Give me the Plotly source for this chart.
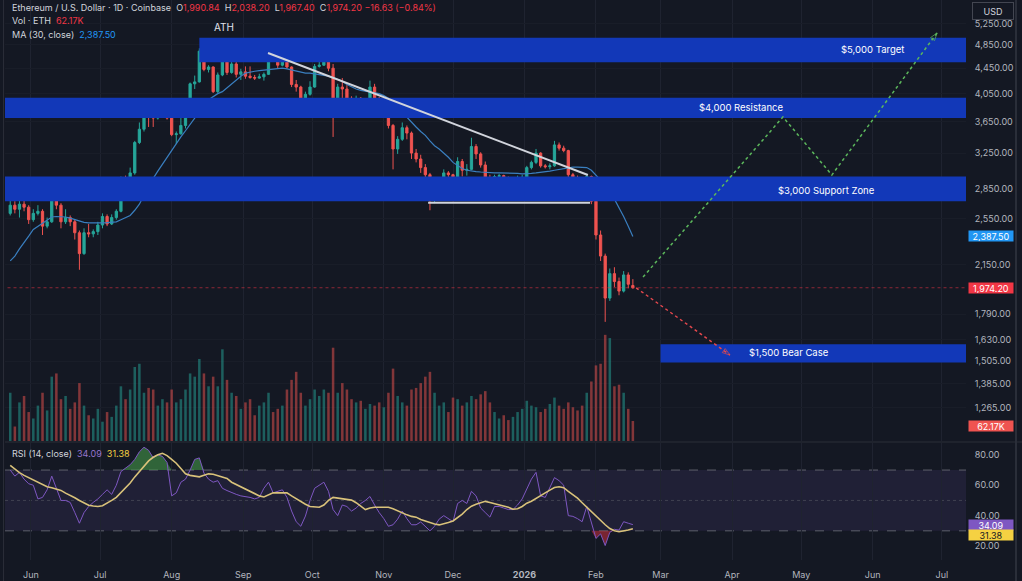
import math
import pandas as pd
import plotly.graph_objects as go

# ---------------- data (2-day candles) ----------------
dates = pd.date_range("2025-05-23", periods=136, freq="2D")

opens = [2600,2680,2640,2690,2660,2540,2600,2620,2480,2520,
         2760,2680,2520,2560,2520,2420,2240,2420,2410,2430,
         2490,2570,2500,2560,2620,2950,2940,3020,3380,3550,
         3760,3740,3700,3780,3800,3700,3480,3490,3600,3720,
         4200,4230,4740,4430,4470,4080,4340,4780,4380,4520,
         4350,4390,4320,4300,4290,4310,4350,4620,4600,4500,
         4580,4470,4190,4150,3950,4040,4150,4480,4500,4680,
         4450,3850,4150,4120,3980,3880,3980,3860,3940,4150,
         3980,3850,3880,3600,3300,3420,3570,3500,3250,3180,
         3080,3000,2760,2820,2950,3020,3000,2800,3150,3050,
         3060,3330,3240,3110,2960,2920,2980,2990,2960,2930,
         2940,2960,2970,3080,3140,3250,3100,3090,3100,3350,
         3310,3280,3000,2960,2920,2880,2980,2720,2400,2220,
         1900,2080,2020,1950,2070,1990.84]
highs = [2740,2720,2730,2780,2680,2640,2680,2640,2560,2870,
         2810,2700,2640,2580,2540,2440,2460,2500,2450,2520,
         2600,2590,2590,2640,2980,2990,3080,3400,3640,3800,
         3820,3780,3820,3940,3880,3720,3520,3720,3760,4220,
         4330,4790,4760,4500,4480,4380,4960,4800,4640,4560,
         4440,4480,4480,4340,4360,4380,4680,4760,4620,4640,
         4600,4480,4260,4170,4080,4240,4520,4560,4760,4700,
         4520,4200,4290,4180,4010,4020,4000,3960,4250,4200,
         4000,3920,3900,3620,3460,3640,3600,3520,3300,3230,
         3120,3020,2860,2970,3060,3040,3010,3200,3180,3120,
         3440,3360,3260,3150,3000,3000,3010,3000,2980,2960,
         2990,3000,3100,3160,3300,3260,3120,3130,3400,3380,
         3340,3290,3020,2990,2950,3010,2990,2740,2440,2240,
         2120,2130,2050,2100,2090,2038.20]
lows = [2580,2600,2560,2620,2500,2520,2580,2400,2460,2510,
        2640,2460,2500,2480,2360,2110,2230,2380,2380,2400,
        2460,2480,2490,2540,2610,2900,2920,3000,3360,3520,
        3580,3580,3680,3760,3680,3460,3360,3480,3560,3700,
        4120,4220,4400,4380,4060,4060,4320,4340,4360,4300,
        4260,4280,4280,4260,4280,4250,4340,4580,4440,4480,
        4440,4150,4080,3830,3940,4020,4140,4460,4490,4400,
        3450,3800,3920,3920,3780,3860,3720,3840,3920,3960,
        3760,3830,3560,3060,3240,3400,3420,3180,3140,3020,
        2900,2630,2700,2800,2930,2960,2720,2780,2980,2990,
        3050,3180,3080,2900,2780,2900,2960,2900,2910,2920,
        2920,2950,2960,3060,3120,3080,3070,3060,3090,3280,
        3260,2960,2920,2880,2800,2860,2690,2360,2180,1740,
        1880,1980,1920,1940,1970,1967.40]
closes = [2680,2640,2690,2660,2540,2600,2620,2480,2520,2760,
          2680,2520,2560,2520,2420,2240,2420,2410,2430,2490,
          2570,2500,2560,2620,2950,2940,3020,3380,3550,3760,
          3740,3700,3780,3800,3700,3480,3490,3600,3720,4200,
          4230,4740,4430,4470,4080,4340,4780,4380,4520,4350,
          4390,4320,4300,4290,4310,4350,4620,4600,4500,4580,
          4470,4190,4150,3950,4040,4150,4480,4500,4680,4450,
          3850,4150,4120,3980,3880,3980,3860,3940,4150,3980,
          3850,3880,3600,3300,3420,3570,3500,3250,3180,3080,
          3000,2760,2820,2950,3020,3000,2800,3150,3050,3060,
          3330,3240,3110,2960,2920,2980,2990,2960,2930,2940,
          2960,2970,3080,3140,3250,3100,3090,3100,3350,3310,
          3280,3000,2960,2920,2880,2980,2720,2400,2220,1900,
          2080,2020,1950,2070,2000,1974.20]
volume_k = [150,45,120,140,90,70,110,150,95,200,
            210,130,140,100,120,180,110,80,70,100,
            60,90,75,110,170,130,160,230,240,150,
            165,160,110,130,120,160,120,130,160,210,
            200,255,210,170,200,170,285,190,150,140,
            100,120,130,80,110,120,150,90,100,110,
            160,190,215,150,110,130,160,140,160,150,
            290,150,180,160,130,120,125,100,115,110,
            120,105,150,225,140,120,110,160,165,180,
            200,215,150,110,120,90,135,130,110,120,
            140,130,145,155,120,90,70,80,65,75,
            90,100,125,110,105,90,100,115,135,110,
            100,120,105,95,110,150,185,235,240,330,
            320,170,175,150,100,62.17]
ma30 = [2180,2220,2280,2330,2390,2450,2480,2510,2540,2565,
        2570,2570,2565,2555,2540,2525,2515,2510,2508,2510,
        2510,2512,2515,2520,2540,2560,2580,2630,2690,2780,
        2870,2960,3040,3120,3200,3290,3360,3450,3530,3620,
        3700,3770,3880,3960,4010,4050,4080,4140,4200,4260,
        4320,4370,4390,4400,4410,4420,4430,4440,4440,4450,
        4440,4420,4400,4380,4370,4370,4360,4350,4340,4320,
        4300,4270,4240,4190,4150,4120,4100,4090,4070,4060,
        4050,4020,3980,3920,3850,3770,3700,3640,3580,3520,
        3470,3400,3340,3300,3250,3200,3140,3100,3070,3050,
        3040,3035,3030,3025,3020,3020,3020,3020,3020,3020,
        3015,3010,3010,3015,3020,3025,3030,3040,3050,3060,
        3070,3080,3085,3085,3085,3080,3050,3000,2940,2880,
        2800,2740,2660,2570,2480,2387.50]
rsi = [70,66,68.5,64,61,60,51,52,57,66,
       58,50,50,48.7,42,35,42,46,48.7,51,
       54,57,54,60,69,71,73.5,77,82,85,
       83,78,80,79,75,53,55,62,64,70,
       77,78,68,64,62,63,58,56.5,55,54,
       53,52.6,52,51,52,58,62,55,56,57,
       52,43,36,33,39.7,50,58,60,62,56,
       44,40,47,46,43,45,48,50,52.6,47,
       42,38,33,34,37.7,43,38,34,34,35.8,
       33,30,33,37.7,40,38,36,48,50,48,
       56,53,45,42,39,46,46,45,44,44,
       47,51,57,64,68.5,53,52,58,65,63,
       60,40,39.5,38,36,46,35,25,28,20.3,
       29,31,30.5,36,35,34.09]
rsi_ma = [73,70.5,68.3,66.5,65,63.5,61.8,60.2,59,58.3,
          57.7,56.6,54.8,53.4,51.8,50,48.2,46.8,46.3,46,
          46.5,48,50,52,55,58,61.5,65.5,69,73,
          76,78.4,80,81,79.5,77,74.5,71,67.5,66.5,
          66,65.5,66.5,67.5,67.2,66.4,65.7,64.5,62,60.5,
          59,57.5,55.8,54.5,53,52.3,53.5,55,55,55,
          55,53,51,49,47.5,46,45.8,45.5,47,50,
          52,51.5,51,50.8,50.2,48.5,46,44,45,45.5,
          45.5,45.5,45.5,44.5,43,41.5,40.5,39.5,39,37.5,
          36.5,35.3,34.5,33.9,34.5,35.5,36.5,38.5,41,44,
          46.2,47.5,48.5,49.4,48.7,48,47.4,46.5,45.5,44.2,
          44.5,46,48.2,49.5,51.5,53.5,55,56.8,58.5,59,
          58.4,56,54,51.5,48.5,45.5,43,40,37,34,
          31.5,30,29.4,29.8,30.6,31.38]

# zones
zone_names = ["$5,000 Target", "$4,000 Resistance", "$3,000 Support Zone", "$1,500 Bear Case"]
zone_low = [4550, 3700, 2720, 1497]
zone_high = [4980, 3990, 2980, 1602]
zone_start = ["2025-08-13", "2025-05-01", "2025-05-01", "2026-03-01"]
zone_end = "2026-08-01"

trend_x = ["2025-09-11 19:00", "2026-01-28 12:00"]
trend_y = [4708, 2997]
support_x = ["2025-11-20 05:00", "2026-01-29 10:00"]
support_y = [2703, 2703]
bull_x = ["2026-02-21 10:00", "2026-04-23 02:00", "2026-05-14 07:00", "2026-06-28 22:00"]
bull_y = [2055, 3715, 2997, 5070]
bear_x = ["2026-02-18 10:00", "2026-03-31 02:00"]
bear_y = [1974, 1539]

price_ticks = [1265, 1385, 1505, 1630, 1790, 2150, 2550, 2850, 3250, 3650, 4050, 4450, 4850, 5250]
rsi_ticks = [20, 40, 60, 80]
month_ticks = ["2025-06-01", "2025-07-01", "2025-08-01", "2025-09-01", "2025-10-01", "2025-11-01",
               "2025-12-01", "2026-01-01", "2026-02-01", "2026-03-01", "2026-04-01", "2026-05-01",
               "2026-06-01", "2026-07-01"]
month_text = ["Jun", "Jul", "Aug", "Sep", "Oct", "Nov", "Dec", "<b>2026</b>", "Feb", "Mar", "Apr",
              "May", "Jun", "Jul"]

# ---------------- style ----------------
BG = "#141823"
GRID = "#1f2330"
TXT = "#b2b5be"
UP = "#26a69a"
DN = "#ef5350"
ZONE = "#1238b8"
FONT = "Inter"

fig = go.Figure()

# MA line (under zones)
fig.add_trace(go.Scatter(x=dates, y=ma30, mode="lines", line=dict(color="#3a7fc0", width=1.2),
                         xaxis="x", yaxis="y", hoverinfo="skip"))

# zones
for lo, hi, st in zip(zone_low, zone_high, zone_start):
    fig.add_trace(go.Scatter(x=[st, zone_end, zone_end, st, st], y=[lo, lo, hi, hi, lo],
                             mode="lines", fill="toself", fillcolor=ZONE, line=dict(width=0),
                             xaxis="x", yaxis="y", hoverinfo="skip"))

# current price dotted line
fig.add_trace(go.Scatter(x=["2025-05-01", zone_end], y=[closes[-1], closes[-1]], mode="lines",
                         line=dict(color="rgba(242,54,69,0.55)", width=1, dash="dot"),
                         xaxis="x", yaxis="y", hoverinfo="skip"))

# candles
fig.add_trace(go.Candlestick(x=dates, open=opens, high=highs, low=lows, close=closes,
                             increasing=dict(line=dict(color=UP, width=1), fillcolor=UP),
                             decreasing=dict(line=dict(color=DN, width=1), fillcolor=DN),
                             whiskerwidth=0, xaxis="x", yaxis="y", hoverinfo="skip"))

# trend lines
fig.add_trace(go.Scatter(x=trend_x, y=trend_y, mode="lines", line=dict(color="#d1d4dc", width=2),
                         xaxis="x", yaxis="y", hoverinfo="skip"))
fig.add_trace(go.Scatter(x=support_x, y=support_y, mode="lines", line=dict(color="#d1d4dc", width=2),
                         xaxis="x", yaxis="y", hoverinfo="skip"))

# projections
fig.add_trace(go.Scatter(x=bull_x, y=bull_y, mode="lines", line=dict(color="#5cb85c", width=1.5, dash="dot"),
                         xaxis="x", yaxis="y", hoverinfo="skip"))
fig.add_trace(go.Scatter(x=bull_x[-2:], y=bull_y[-2:], mode="markers",
                         marker=dict(symbol="arrow-open", size=[0, 8], angleref="previous",
                                     color="#5cb85c", line=dict(color="#5cb85c", width=1)),
                         xaxis="x", yaxis="y", hoverinfo="skip"))
fig.add_trace(go.Scatter(x=bear_x, y=bear_y, mode="lines", line=dict(color="#e5484d", width=1.5, dash="dot"),
                         xaxis="x", yaxis="y", hoverinfo="skip"))
fig.add_trace(go.Scatter(x=bear_x, y=bear_y, mode="markers",
                         marker=dict(symbol="arrow-open", size=[0, 8], angleref="previous",
                                     color="#e5484d", line=dict(color="#e5484d", width=1)),
                         xaxis="x", yaxis="y", hoverinfo="skip"))

# volume
vol_colors = ["rgba(38,166,154,0.5)" if c >= o else "rgba(239,83,80,0.5)" for o, c in zip(opens, closes)]
fig.add_trace(go.Bar(x=dates, y=volume_k, marker=dict(color=vol_colors, line=dict(width=0)),
                     xaxis="x2", yaxis="y3", hoverinfo="skip"))

# RSI fills
upper = [max(v, 70) for v in rsi]
lower = [min(v, 30) for v in rsi]
fig.add_trace(go.Scatter(x=dates, y=[70] * len(rsi), mode="lines", line=dict(width=0),
                         xaxis="x", yaxis="y2", hoverinfo="skip"))
fig.add_trace(go.Scatter(x=dates, y=upper, mode="lines", line=dict(width=0), fill="tonexty",
                         fillcolor="rgba(76,175,80,0.5)", xaxis="x", yaxis="y2", hoverinfo="skip"))
fig.add_trace(go.Scatter(x=dates, y=[30] * len(rsi), mode="lines", line=dict(width=0),
                         xaxis="x", yaxis="y2", hoverinfo="skip"))
fig.add_trace(go.Scatter(x=dates, y=lower, mode="lines", line=dict(width=0), fill="tonexty",
                         fillcolor="rgba(242,54,69,0.45)", xaxis="x", yaxis="y2", hoverinfo="skip"))
fig.add_trace(go.Scatter(x=dates, y=rsi, mode="lines", line=dict(color="#7e57c2", width=1),
                         xaxis="x", yaxis="y2", hoverinfo="skip"))
fig.add_trace(go.Scatter(x=dates, y=rsi_ma, mode="lines", line=dict(color="#d9c27a", width=1.6),
                         xaxis="x", yaxis="y2", hoverinfo="skip"))

# ---------------- layout ----------------
H_PLOT = 560.0
W_PLOT = 961.0


def py(px):
    return 1 - px / H_PLOT


def px_x(px):
    return (px - 5) / W_PLOT


fig.update_layout(
    width=1022, height=581, margin=dict(l=5, r=56, t=0, b=21),
    paper_bgcolor=BG, plot_bgcolor="rgba(0,0,0,0)", showlegend=False,
    font=dict(family=FONT, color=TXT, size=9),
    bargap=0.45,
    xaxis=dict(type="date", range=["2025-05-20 17:30", "2026-07-11 11:00"], anchor="y2",
               rangeslider=dict(visible=False),
               tickvals=month_ticks, ticktext=month_text, showgrid=True, gridcolor=GRID, gridwidth=1,
               zeroline=False, showline=False, ticks="", ticklabelstandoff=8,
               tickfont=dict(size=9, color=TXT, family=FONT)),
    xaxis2=dict(matches="x", anchor="y3", visible=False, showgrid=False, rangeslider=dict(visible=False)),
    yaxis=dict(domain=[py(441), 1], type="log", range=[3.0490, 3.7580], side="right", anchor="x",
               tickvals=price_ticks, ticktext=[f"{v:,.2f}" for v in price_ticks],
               showgrid=True, gridcolor="#191d28", zeroline=False, showline=False,
               ticks="outside", ticklen=6, tickcolor="rgba(0,0,0,0)",
               tickfont=dict(size=9, color=TXT, family=FONT)),
    yaxis2=dict(domain=[0, py(443)], range=[10.8, 87.8], side="right", anchor="x",
                tickvals=rsi_ticks, ticktext=[f"{v:.2f}" for v in rsi_ticks],
                showgrid=False, zeroline=False, showline=False,
                ticks="outside", ticklen=6, tickcolor="rgba(0,0,0,0)",
                tickfont=dict(size=9, color=TXT, family=FONT)),
    yaxis3=dict(domain=[py(441), py(330)], range=[0, 345], anchor="x2", visible=False, showgrid=False),
)

shapes = [
    dict(type="rect", xref="paper", yref="y2", x0=0, x1=1, y0=30, y1=70,
         fillcolor="rgba(126,87,194,0.12)", line=dict(width=0), layer="below"),
    dict(type="line", xref="paper", yref="y2", x0=0, x1=1, y0=70, y1=70,
         line=dict(color="#5d606b", width=1, dash="dash"), layer="below"),
    dict(type="line", xref="paper", yref="y2", x0=0, x1=1, y0=30, y1=30,
         line=dict(color="#5d606b", width=1, dash="dash"), layer="below"),
    dict(type="line", xref="paper", yref="y2", x0=0, x1=1, y0=50, y1=50,
         line=dict(color="rgba(93,96,107,0.5)", width=1, dash="dot"), layer="below"),
    dict(type="line", xref="paper", yref="paper", x0=0, x1=1.06, y0=py(442), y1=py(442),
         line=dict(color="#2a2e39", width=1)),
    dict(type="line", xref="paper", yref="paper", x0=-0.0015, x1=-0.0015, y0=-0.04, y1=1,
         line=dict(color="#2a2e39", width=1)),
    dict(type="line", xref="paper", yref="paper", x0=px_x(1016), x1=px_x(1016), y0=-0.04, y1=1,
         line=dict(color="#2a2e39", width=2)),
]
fig.update_layout(shapes=shapes)

ann = []
R = "#f23645"
ann.append(dict(xref="paper", yref="paper", x=px_x(10), y=py(8), xanchor="left", yanchor="middle",
                showarrow=False, font=dict(size=9, color="#d1d4dc", family=FONT),
                text=("Ethereum / U.S. Dollar · 1D · Coinbase  O<span style='color:%s'>1,990.84</span>"
                      "  H<span style='color:%s'>2,038.20</span>  L<span style='color:%s'>1,967.40</span>"
                      "  C<span style='color:%s'>1,974.20</span> <span style='color:%s'>−16.63 (−0.84%%)</span>")
                % (R, R, R, R, R)))
ann.append(dict(xref="paper", yref="paper", x=px_x(10), y=py(21), xanchor="left", yanchor="middle",
                showarrow=False, font=dict(size=9, color="#d1d4dc", family=FONT),
                text="Vol · ETH  <span style='color:%s'>62.17K</span>" % R))
ann.append(dict(xref="paper", yref="paper", x=px_x(10), y=py(34), xanchor="left", yanchor="middle",
                showarrow=False, font=dict(size=9, color="#d1d4dc", family=FONT),
                text="MA (30, close)  <span style='color:#2196f3'>2,387.50</span>"))
ann.append(dict(xref="paper", yref="paper", x=px_x(10), y=py(453), xanchor="left", yanchor="middle",
                showarrow=False, font=dict(size=9, color="#d1d4dc", family=FONT),
                text="RSI (14, close)  <span style='color:#9575cd'>34.09</span>  <span style='color:#f5d142'>31.38</span>"))
ann.append(dict(xref="paper", yref="paper", x=px_x(224), y=py(27), xanchor="center", yanchor="middle",
                showarrow=False, font=dict(size=10, color="#e0e3eb", family=FONT), text="ATH"))

zone_label_pos = [(872, 49), (741, 108), (826, 190), (789, 352)]
for name, (lx, ly) in zip(zone_names, zone_label_pos):
    ann.append(dict(xref="paper", yref="paper", x=px_x(lx), y=py(ly), xanchor="center", yanchor="middle",
                    showarrow=False, font=dict(size=9.5, color="#ffffff", family=FONT), text=name))


# right-axis value labels
def axis_label(text, y, yref, bg, fg="#ffffff"):
    return dict(xref="paper", yref=yref, x=px_x(968), y=y, xanchor="left", yanchor="middle",
                showarrow=False, text=text, bgcolor=bg, width=44, height=10, align="center",
                font=dict(size=9, color=fg, family=FONT), borderpad=0)


ann.append(axis_label("2,387.50", math.log10(2387.5), "y", "#2196f3"))
ann.append(axis_label("1,974.20", math.log10(1974.2), "y", R))
ann.append(axis_label("62.17K", py(426), "paper", "#ef5350"))
ann.append(axis_label("34.09", py(525), "paper", "#7e57c2"))
ann.append(axis_label("31.38", py(535), "paper", "#f5d142", fg="#131722"))
ann.append(dict(xref="paper", yref="paper", x=px_x(993), y=py(11), xanchor="center", yanchor="middle",
                showarrow=False, text="USD", bgcolor=BG, bordercolor="#434651", borderwidth=1,
                width=38, height=14, font=dict(size=9, color="#d1d4dc", family=FONT)))
fig.update_layout(annotations=ann)

fig.write_html("out.html")
